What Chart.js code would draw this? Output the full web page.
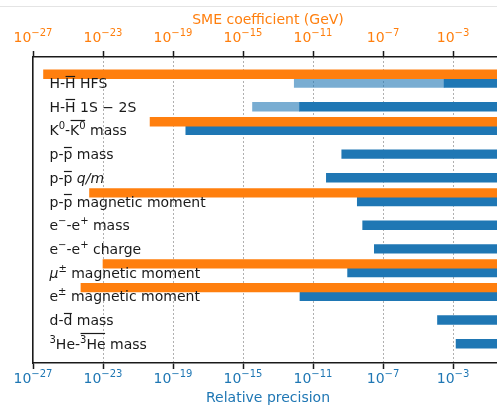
<!DOCTYPE html>
<html>
<head>
<meta charset="utf-8">
<script src="https://cdn.jsdelivr.net/npm/chart.js@4.4.0/dist/chart.umd.min.js"></script>
<style>
  html, body { margin: 0; padding: 0; background: #fff; overflow: hidden; width: 497px; height: 405px; }
  canvas { display: block; }
</style>
</head>
<body>
<canvas id="c" width="503" height="405"></canvas>
<script>
// Measurements, top to bottom. Markup: ^{..} superscript, \o{..} overline, \i{..} italic.
const categories = [
  'H-\\o{H} HFS',
  'H-\\o{H} 1S − 2S',
  'K^{0}-\\o{K^{0}} mass',
  'p-\\o{p} mass',
  'p-\\o{p} \\i{q/m}',
  'p-\\o{p} magnetic moment',
  'e^{−}-e^{+} mass',
  'e^{−}-e^{+} charge',
  '\\i{μ}^{±} magnetic moment',
  'e^{±} magnetic moment',
  'd-\\o{d} mass',
  '^{3}He-\\o{^{3}He} mass'
];

// Lower edge of the SME coefficient bound (GeV); null = no bound shown
const smeStart = [4e-27, null, 4.9e-21, null, null, 1.7e-24, null, null, 1.0e-23, 5.5e-25, null, null];
// Achieved relative precision
const precisionStart = [3.1e-4, 1.7e-12, 5.4e-19, 4.4e-10, 5.8e-11, 3.4e-9, 6.9e-9, 3.2e-8, 9.5e-10, 1.8e-12, 1.3e-4, 1.5e-3];
// Projected relative precision (lighter extension)
const projectedStart = [8.5e-13, 3.5e-15, null, null, null, null, null, null, null, null, null, null];
// All bars run out to this value
const rangeEnd = 1;

const tickExponents = [-27, -23, -19, -15, -11, -7, -3];
const X_MIN_EXP = -27;
const X_MAX_EXP = -0.143;

const ORANGE = '#ff7f0e';
const BLUE = '#1f77b4';
const LIGHT_BLUE = 'rgba(31,119,180,0.6)';
const INK = '#1a1a1a';
const FONT = '"DejaVu Sans", "Liberation Sans", sans-serif';
const BAR_PX = 8.7;          // bar thickness in pixels
const BAR_ROW = 0.367;       // same thickness in row units (orange sits just above blue)

Chart.defaults.font.family = FONT;
Chart.defaults.font.size = 14;

function parseMarkup(s) {
  const segs = [], stack = [];
  let buf = '';
  const flush = () => {
    if (buf) {
      segs.push({ text: buf, over: stack.includes('o'), it: stack.includes('i'), sup: stack.includes('s') });
      buf = '';
    }
  };
  for (let i = 0; i < s.length; i++) {
    const c = s[i];
    if (c === '\\' && s[i + 2] === '{') { flush(); stack.push(s[i + 1]); i += 2; }
    else if (c === '^' && s[i + 1] === '{') { flush(); stack.push('s'); i += 1; }
    else if (c === '}') { flush(); stack.pop(); }
    else buf += c;
  }
  flush();
  return segs;
}

const LABEL_SIZE = 14, SUP_SIZE = 10, SUP_RAISE = 6;
const segFont = seg => (seg.it ? 'italic ' : '') + (seg.sup ? SUP_SIZE : LABEL_SIZE) + 'px ' + FONT;

function richWidth(ctx, segs) {
  let w = 0;
  for (const seg of segs) { ctx.font = segFont(seg); w += ctx.measureText(seg.text).width; }
  return w;
}

function drawRich(ctx, segs, x, baseline) {
  let cx = x;
  let group = null;
  const groups = [];
  for (const seg of segs) {
    const size = seg.sup ? SUP_SIZE : LABEL_SIZE;
    ctx.font = segFont(seg);
    const y = seg.sup ? baseline - SUP_RAISE : baseline;
    ctx.fillText(seg.text, cx, y);
    const w = ctx.measureText(seg.text).width;
    if (seg.over) {
      const top = y - size * 0.73;
      if (!group) { group = { x0: cx, x1: cx + w, top }; groups.push(group); }
      else { group.x1 = cx + w; group.top = Math.min(group.top, top); }
    } else {
      group = null;
    }
    cx += w;
  }
  ctx.lineWidth = 1.2;
  ctx.strokeStyle = ctx.fillStyle;
  for (const g of groups) {
    const yy = Math.round(g.top - 2) + 0.5;
    ctx.beginPath();
    ctx.moveTo(g.x0 + 0.5, yy);
    ctx.lineTo(g.x1 - 0.5, yy);
    ctx.stroke();
  }
}

// Power-of-ten tick text, e.g. 10^{-27}
const powerMarkup = e => '10^{' + String(e).replace('-', '−') + '}';

const richText = {
  id: 'richText',
  afterDatasetsDraw(chart) {
    const { ctx, scales: { y } } = chart;
    ctx.save();
    ctx.fillStyle = INK;
    ctx.textBaseline = 'alphabetic';
    ctx.textAlign = 'left';
    categories.forEach((c, i) => {
      drawRich(ctx, parseMarkup(c), chart.chartArea.left + 16.5, y.getPixelForValue(i) + 5);
    });
    ctx.restore();
  },
  afterDraw(chart) {
    const { ctx, scales: { x, x2 } } = chart;
    ctx.save();
    ctx.textBaseline = 'alphabetic';
    ctx.textAlign = 'left';
    for (const [scale, color, baseline] of [[x2, ORANGE, 42], [x, BLUE, 382.5]]) {
      ctx.fillStyle = color;
      tickExponents.forEach(e => {
        const segs = parseMarkup(powerMarkup(e));
        const w = richWidth(ctx, segs);
        drawRich(ctx, segs, scale.getPixelForValue(Math.pow(10, e)) - w / 2, baseline);
      });
    }
    ctx.restore();
  }
};

const pageRule = {
  id: 'pageRule',
  beforeDraw(chart) {
    const { ctx } = chart;
    ctx.save();
    ctx.fillStyle = '#e4e4e4';
    ctx.fillRect(0, 6, chart.width, 1);
    ctx.restore();
  }
};

const bars = (starts, ends, shift) => starts
  .map((s, i) => (s == null ? null : { y: i + shift, x: [s, Array.isArray(ends) ? ends[i] : ends] }))
  .filter(Boolean);

const setTicks = scale => { scale.ticks = tickExponents.map(e => ({ value: Math.pow(10, e) })); };

new Chart(document.getElementById('c'), {
  type: 'bar',
  data: {
    datasets: [
      { label: 'SME coefficient', data: bars(smeStart, rangeEnd, -BAR_ROW), backgroundColor: ORANGE },
      { label: 'Relative precision', data: bars(precisionStart, rangeEnd, 0), backgroundColor: BLUE },
      { label: 'Projected', data: bars(projectedStart, precisionStart, 0), backgroundColor: LIGHT_BLUE }
    ]
  },
  options: {
    indexAxis: 'y',
    responsive: false,
    animation: false,
    devicePixelRatio: 1,
    layout: { padding: { left: 33, right: 0, top: 0, bottom: 0 } },
    datasets: { bar: { grouped: false, barThickness: BAR_PX, borderWidth: 0 } },
    plugins: { legend: { display: false }, tooltip: { enabled: false } },
    scales: {
      x: {
        type: 'logarithmic',
        position: 'bottom',
        min: Math.pow(10, X_MIN_EXP),
        max: Math.pow(10, X_MAX_EXP),
        afterBuildTicks: setTicks,
        afterFit: s => { s.height = 42; },
        ticks: { display: false },
        grid: {
          color: c => (c.index === 0 ? 'rgba(0,0,0,0)' : '#b0b0b0'),
          lineWidth: 1,
          tickLength: 6,
          tickColor: INK,
          tickWidth: 1.5
        },
        border: { display: true, color: INK, width: 1.6, dash: [2, 2] },
        title: { display: true, text: 'Relative precision', color: BLUE, font: { size: 14, lineHeight: 1 }, padding: { top: 0, bottom: 0 } }
      },
      x2: {
        type: 'logarithmic',
        position: 'top',
        min: Math.pow(10, X_MIN_EXP),
        max: Math.pow(10, X_MAX_EXP),
        afterBuildTicks: setTicks,
        afterFit: s => { s.height = 57; },
        ticks: { display: false },
        grid: { drawOnChartArea: false, tickLength: 6, tickColor: INK, tickWidth: 1.5 },
        border: { display: true, color: INK, width: 1.6 },
        title: { display: true, text: 'SME coefficient (GeV)', color: ORANGE, font: { size: 14 }, padding: { top: 12, bottom: 0 } }
      },
      y: {
        type: 'linear',
        reverse: true,
        offset: false,
        min: -1.097,
        max: 11.814,
        afterFit: s => { s.width = 0; },
        ticks: { display: false },
        grid: { display: false, drawTicks: false, offset: false },
        border: { display: true, color: INK, width: 1.6 }
      }
    }
  },
  plugins: [pageRule, richText]
});
</script>
</body>
</html>
